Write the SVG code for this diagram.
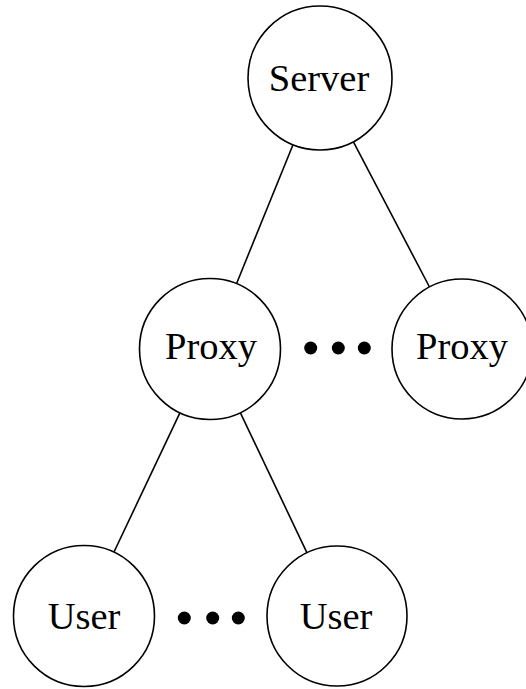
<svg xmlns="http://www.w3.org/2000/svg" width="526" height="689" viewBox="0 0 526 689">
  <style>
    .node circle { fill: #fff; stroke: #000; stroke-width: 1.6; }
    .node text { font-family: "Liberation Serif", "Times New Roman", serif; font-size: 38.5px; text-anchor: middle; fill: #000; }
    .edges line { stroke: #000; stroke-width: 1.6; }
    .dots circle { fill: #000; }
  </style>
  <rect width="526" height="689" fill="#fff"/>

  <!-- tree edges, trimmed to the circle borders -->
  <g class="edges">
    <line x1="293" y1="144.7" x2="236.5" y2="283.7"/>
    <line x1="353.4" y1="141.8" x2="429.5" y2="287"/>
    <line x1="179.9" y1="412.8" x2="114" y2="552"/>
    <line x1="240.3" y1="412.7" x2="307" y2="552.8"/>
  </g>

  <g id="server" class="node">
    <circle cx="320" cy="78" r="72"/>
    <text x="319" y="91">Server</text>
  </g>
  <g id="proxy-1" class="node">
    <circle cx="210" cy="349" r="70.5"/>
    <text x="211" y="358.5">Proxy</text>
  </g>
  <g id="proxy-n" class="node">
    <circle cx="462" cy="349" r="70"/>
    <text x="462" y="358.5">Proxy</text>
  </g>
  <g id="user-1" class="node">
    <circle cx="84" cy="616" r="70.5"/>
    <text x="84" y="628.5">User</text>
  </g>
  <g id="user-n" class="node">
    <circle cx="337" cy="616" r="70"/>
    <text x="336" y="628.5">User</text>
  </g>

  <!-- ellipsis between sibling nodes -->
  <g id="proxy-dots" class="dots">
    <circle cx="310.7" cy="348" r="6.5"/>
    <circle cx="338.3" cy="348" r="6.5"/>
    <circle cx="364.3" cy="348" r="6.5"/>
  </g>
  <g id="user-dots" class="dots">
    <circle cx="184.3" cy="618" r="6.5"/>
    <circle cx="212.7" cy="618" r="6.5"/>
    <circle cx="238.3" cy="618" r="6.5"/>
  </g>
</svg>
